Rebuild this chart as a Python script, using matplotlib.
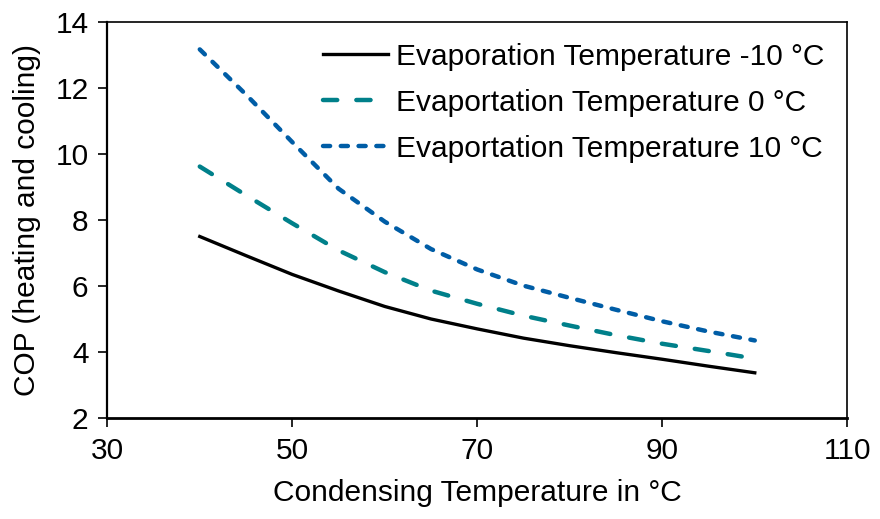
import numpy as np
import matplotlib.pyplot as plt

plt.rcParams['font.family'] = ['Liberation Sans', 'DejaVu Sans']

# condensing temperature (°C)
cond_temp = [40, 45, 50, 55, 60, 65, 70, 75, 80, 85, 90, 95, 100]

# COP for each evaporation temperature
cop_evap_m10 = [7.50, 6.92, 6.35, 5.85, 5.38, 5.00, 4.70, 4.42, 4.19, 3.98, 3.78, 3.57, 3.37]
cop_evap_0 = [9.62, 8.75, 7.90, 7.08, 6.42, 5.86, 5.46, 5.10, 4.80, 4.51, 4.25, 4.03, 3.80]
cop_evap_10 = [13.17, 11.80, 10.36, 8.95, 7.95, 7.12, 6.50, 6.01, 5.64, 5.28, 4.93, 4.62, 4.35]

labels = ["Evaporation Temperature -10 °C",
          "Evaportation Temperature 0 °C",
          "Evaportation Temperature 10 °C"]

fs = 21.5

fig = plt.figure(figsize=(8.8, 5.19), dpi=100)
ax = fig.add_axes([0.1219, 0.1946, 0.8409, 0.763])

ax.plot(cond_temp, cop_evap_m10, color="black", linewidth=2.4, label=labels[0])
ax.plot(cond_temp, cop_evap_0, color="#00808A", linewidth=3.2,
        dashes=(3.2, 4.3), dash_capstyle="round", label=labels[1])
ax.plot(cond_temp, cop_evap_10, color="#005DA6", linewidth=3.2,
        dashes=(1.6, 2.4), dash_capstyle="round", label=labels[2])

ax.set_xlim(30, 110)
ax.set_ylim(2, 14)
ax.set_xticks([30, 50, 70, 90, 110])
ax.set_yticks([2, 4, 6, 8, 10, 12, 14])
ax.tick_params(direction="out", length=6.5, width=1.2, labelsize=fs, pad=7)

for side in ["top", "right"]:
    ax.spines[side].set_linewidth(1.2)
ax.spines["left"].set_linewidth(1.6)
ax.spines["bottom"].set_linewidth(2.0)

ax.set_xlabel("Condensing Temperature in °C", fontsize=fs, labelpad=10)
ax.set_ylabel("COP (heating and cooling)", fontsize=fs, labelpad=10)

ax.legend(loc="upper right", frameon=False, fontsize=fs, handlelength=2.2,
          handletextpad=0.25, labelspacing=0.6, borderaxespad=0.4,
          bbox_to_anchor=(1.001, 1.008))

fig.savefig("out.png", dpi=100)
